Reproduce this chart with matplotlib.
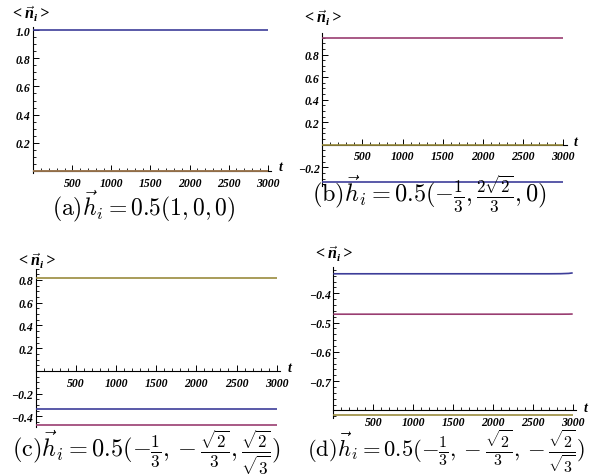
import matplotlib
matplotlib.use('Agg')
import matplotlib.pyplot as plt
from matplotlib.ticker import MultipleLocator, FuncFormatter

plt.rcParams['font.family'] = ['Liberation Serif', 'DejaVu Serif']
plt.rcParams['font.weight'] = 'bold'
plt.rcParams['font.style'] = 'italic'
plt.rcParams['mathtext.bfit'] = 'Liberation Serif:bold:italic'
plt.rcParams['mathtext.bf'] = 'Liberation Serif:bold'
plt.rcParams['mathtext.rm'] = 'Liberation Serif'
plt.rcParams['mathtext.it'] = 'Liberation Serif:italic'
plt.rcParams['mathtext.fallback'] = 'cm'

W, H = 589, 477

# ---- data ----
t_vals = [0, 2700, 2850, 2950, 3000]

a_blue = [1.0, 1.0, 1.0, 1.0, 1.0]
a_mag = [0.0, 0.0, 0.0, 0.0, 0.0]
a_oli = [0.0, 0.0, 0.0, 0.0, 0.0]

b_blue = [-0.3333, -0.3333, -0.3333, -0.3333, -0.3333]
b_mag = [0.9428, 0.9428, 0.9428, 0.9428, 0.9428]
b_oli = [0.0, 0.0, 0.0, 0.0, 0.0]

c_blue = [-0.3333, -0.3333, -0.3333, -0.3333, -0.3333]
c_mag = [-0.4714, -0.4714, -0.4714, -0.4714, -0.4714]
c_oli = [0.8165, 0.8165, 0.8165, 0.8165, 0.8165]

d_blue = [-0.3335, -0.3335, -0.3332, -0.3322, -0.3305]
d_mag = [-0.4714, -0.4714, -0.4714, -0.4712, -0.4708]
d_oli = [-0.8165, -0.8165, -0.8165, -0.8165, -0.8165]

captions = [
    r"$\mathrm{(a)}\vec{h}_i = 0.5(1, 0, 0)$",
    r"$\mathrm{(b)}\vec{h}_i = 0.5(-\frac{1}{3}, \frac{2\sqrt{2}}{3}, 0)$",
    r"$\mathrm{(c)}\vec{h}_i = 0.5(-\frac{1}{3}, -\frac{\sqrt{2}}{3}, \frac{\sqrt{2}}{\sqrt{3}})$",
    r"$\mathrm{(d)}\vec{h}_i = 0.5(-\frac{1}{3}, -\frac{\sqrt{2}}{3}, -\frac{\sqrt{2}}{\sqrt{3}})$",
]
caption_sizes = [17, 17.5, 17.5, 16.3]

BLUE = (0.24, 0.24, 0.6)
MAG = (0.6, 0.24, 0.4428)
OLI = (0.6, 0.547, 0.24)

fig = plt.figure(figsize=(W / 100, H / 100), dpi=100)


def frac_rect(x0, ytop, x1, ybot):
    return [x0 / W, 1 - ybot / H, (x1 - x0) / W, (ybot - ytop) / H]


def fmt(v, pos):
    if abs(v) < 1e-9:
        return ''
    s = f"{v:.1f}"
    return s.replace('-', '\u2212')


panels = [
    dict(rect=(33.3, 28.2, 270.8, 174.1), ylim=(-0.015, 1.02), y0=0.0, maj=0.2, mnr=0.05,
         series=(a_blue, a_mag, a_oli), cap=(144, 207), yl=(30, 14), tl=(281, 168), hide=[]),
    dict(rect=(322.3, 34.1, 566.5, 187.4), ylim=(-0.37, 0.99), y0=0.0, maj=0.2, mnr=0.05,
         series=(b_blue, b_mag, b_oli), cap=(429, 194), yl=(322, 18), tl=(576, 142), hide=[]),
    dict(rect=(35.7, 269.6, 279.9, 428.3), ylim=(-0.495, 0.9), y0=0.0, maj=0.2, mnr=0.05,
         series=(c_blue, c_mag, c_oli), cap=(147, 452), yl=(36, 261), tl=(290, 369), hide=[]),
    dict(rect=(333.3, 267.9, 575.9, 419.1), ylim=(-0.826, -0.31), y0=-0.8, maj=0.1, mnr=0.02,
         series=(d_blue, d_mag, d_oli), cap=(446, 452), yl=(333, 254), tl=(586, 409), hide=[-0.8]),
]

for i, p in enumerate(panels):
    ax = fig.add_axes(frac_rect(*p['rect']))
    blue, mag, oli = p['series']
    ax.plot(t_vals, mag, color=MAG, lw=1.2, solid_capstyle='butt')
    ax.plot(t_vals, oli, color=OLI, lw=1.2, solid_capstyle='butt', alpha=0.8 if i == 0 else 1)
    ax.plot(t_vals, blue, color=BLUE, lw=1.2, solid_capstyle='butt')
    ax.set_xlim(0, 3040)
    ax.set_ylim(*p['ylim'])
    ax.patch.set_alpha(0)
    for s in ('top', 'right'):
        ax.spines[s].set_visible(False)
    ax.spines['left'].set_position(('data', 0))
    ax.spines['bottom'].set_position(('data', p['y0']))
    for s in ('left', 'bottom'):
        ax.spines[s].set_linewidth(0.8)
        ax.spines[s].set_zorder(0.5)
    ax.xaxis.set_major_locator(MultipleLocator(500))
    ax.xaxis.set_minor_locator(MultipleLocator(100))
    ax.yaxis.set_major_locator(MultipleLocator(p['maj']))
    ax.yaxis.set_minor_locator(MultipleLocator(p['mnr']))
    hide = p['hide']

    def yfmt(v, pos, hide=hide):
        for h in hide:
            if abs(v - h) < 1e-9:
                return ''
        return fmt(v, pos)

    ax.yaxis.set_major_formatter(FuncFormatter(yfmt))
    ax.xaxis.set_major_formatter(FuncFormatter(lambda v, pos: '' if v == 0 else f"{int(v)}"))
    ax.tick_params(which='major', direction='in', length=4, width=0.7, labelsize=8.5)
    ax.tick_params(axis='x', which='major', pad=4)
    ax.tick_params(axis='y', which='major', pad=2)
    ax.tick_params(which='minor', direction='in', length=2, width=0.6)

    fig.text(p['cap'][0] / W, 1 - p['cap'][1] / H, captions[i], ha='center', va='center',
             fontsize=caption_sizes[i], math_fontfamily='cm')
    fig.text(p['yl'][0] / W, 1 - p['yl'][1] / H,
             r"$\mathbf{<}\vec{\mathbfit{n}}_{\mathbfit{i}}\mathbf{>}$",
             ha='center', va='center', fontsize=11.5, math_fontfamily='custom')
    fig.text(p['tl'][0] / W, 1 - p['tl'][1] / H, 't', ha='center', va='center',
             fontsize=10)

fig.savefig('out.png', dpi=100)
